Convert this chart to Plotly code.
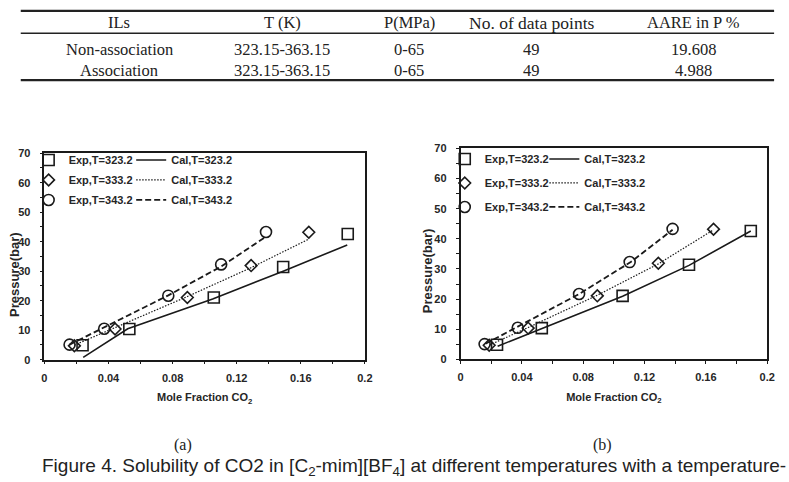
import plotly.graph_objects as go

W, H = 789, 482

# ---------------- data ----------------
table_header = ["ILs", "T (K)", "P(MPa)", "No. of data points", "AARE in P %"]
table_rows = [
    ["Non-association", "323.15-363.15", "0-65", "49", "19.608"],
    ["Association", "323.15-363.15", "0-65", "49", "4.988"],
]

temps = ["323.2", "333.2", "343.2"]

# experimental points (same in both panels)
exp_x = {
    "323.2": [0.0238, 0.0530, 0.1057, 0.1490, 0.1893],
    "333.2": [0.0187, 0.0441, 0.0892, 0.1290, 0.1650],
    "343.2": [0.0157, 0.0373, 0.0773, 0.1103, 0.1383],
}
exp_p = {
    "323.2": [4.9, 10.4, 21.1, 31.4, 42.6],
    "333.2": [4.7, 10.4, 21.1, 31.9, 43.2],
    "343.2": [5.1, 10.5, 21.7, 32.3, 43.3],
}

# model (a): non-association
cal_a_x = {
    "323.2": [0.0242, 0.0520, 0.1050, 0.1490, 0.1890],
    "333.2": [0.0185, 0.0441, 0.0892, 0.1290, 0.1650],
    "343.2": [0.0157, 0.0373, 0.0773, 0.1103, 0.1380],
}
cal_a_p = {
    "323.2": [0.8, 10.5, 20.6, 30.0, 38.9],
    "333.2": [4.9, 10.9, 21.4, 31.2, 40.9],
    "343.2": [5.1, 11.0, 21.8, 31.6, 41.6],
}

# model (b): association
cal_b_x = {
    "323.2": [0.0242, 0.0534, 0.1057, 0.1490, 0.1893],
    "333.2": [0.0190, 0.0441, 0.0892, 0.1290, 0.1650],
    "343.2": [0.0163, 0.0373, 0.0773, 0.1110, 0.1383],
}
cal_b_p = {
    "323.2": [4.4, 10.3, 21.0, 31.2, 42.6],
    "333.2": [4.8, 10.6, 21.3, 31.7, 43.0],
    "343.2": [5.2, 10.8, 21.7, 32.3, 43.0],
}

symbols = {"323.2": "square-open", "333.2": "diamond-open", "343.2": "circle-open"}
msizes = {"323.2": 11, "333.2": 9, "343.2": 11}
dashes = {"323.2": "solid", "333.2": "1.5px,1.5px", "343.2": "6px,3px"}
lwidths = {"323.2": 1.6, "333.2": 1.2, "343.2": 1.8}

INK = "#1a1a1a"
TXT = "#262626"

fig = go.Figure()

panels = [
    ("x", "y", cal_a_x, cal_a_p, "legend", "legend2"),
    ("x2", "y2", cal_b_x, cal_b_p, "legend3", "legend4"),
]

for xa, ya, cx, cp, lge, lgc in panels:
    for t in temps:
        fig.add_trace(go.Scatter(
            x=exp_x[t], y=exp_p[t], mode="markers", xaxis=xa, yaxis=ya,
            name="Exp,T=" + t, legend=lge, legendgroup=xa + "e" + t,
            marker=dict(symbol=symbols[t], size=msizes[t], color=INK,
                        line=dict(width=1.6, color=INK)),
            cliponaxis=False,
        ))
    for t in temps:
        fig.add_trace(go.Scatter(
            x=cx[t], y=cp[t], mode="lines", xaxis=xa, yaxis=ya,
            name="Cal,T=" + t, legend=lgc, legendgroup=xa + "c" + t,
            line=dict(color=INK, width=lwidths[t], dash=dashes[t]),
        ))

def px_x(v):
    return v / W

def px_y(v):
    return 1 - v / H

tickfont = dict(family="Liberation Sans", size=11, color=TXT, weight="bold")
titlefont = dict(family="Liberation Sans", size=11, color=TXT, weight="bold")

def xaxis(dom, anchor):
    return dict(
        domain=dom, range=[0, 0.2], dtick=0.04, tick0=0, tickformat="~g", anchor=anchor,
        ticks="outside", ticklen=3, tickwidth=1, tickcolor=INK,
        minor=dict(dtick=0.02, ticks="outside", ticklen=3, tickwidth=1, tickcolor=INK),
        showline=True, linecolor=INK, linewidth=1.5, mirror=True,
        showgrid=False, zeroline=False, tickfont=tickfont,
        ticklabelstandoff=4,
        title=dict(text="Mole Fraction CO<sub>2</sub>", font=titlefont, standoff=11),
    )

def yaxis(dom, anchor):
    return dict(
        domain=dom, range=[0, 70], dtick=10, anchor=anchor,
        ticks="outside", ticklen=3, tickwidth=1, tickcolor=INK,
        minor=dict(dtick=5, ticks="outside", ticklen=3, tickwidth=1, tickcolor=INK),
        showline=True, linecolor=INK, linewidth=1.5, mirror=True,
        showgrid=False, zeroline=False, tickfont=tickfont,
        ticklabelstandoff=7,
    )

legfont = dict(family="Liberation Sans", size=11, color=TXT, weight="bold")

def leg(x, y, gap):
    return dict(x=px_x(x), y=px_y(y), xanchor="left", yanchor="top",
                bgcolor="rgba(0,0,0,0)", font=legfont, itemwidth=30,
                tracegroupgap=gap, borderwidth=0)

fig.update_layout(
    width=W, height=H, margin=dict(l=0, r=0, t=0, b=0),
    paper_bgcolor="white", plot_bgcolor="white",
    xaxis=xaxis([px_x(42), px_x(367)], "y"),
    yaxis=yaxis([px_y(362.7), px_y(151)], "x"),
    xaxis2=xaxis([px_x(464), px_x(775)], "y2"),
    yaxis2=yaxis([px_y(362.5), px_y(146)], "x2"),
    legend=leg(26, 143, 1),
    legend2=leg(130, 143, 1),
    legend3=leg(448, 142, 5),
    legend4=leg(549, 142, 5),
    showlegend=True,
)

# ---------------- table ----------------
shapes = []
tl, tr_ = 18, 782
for yy, w in [(5, 2.2), (28, 1.4), (76, 2.2)]:
    shapes.append(dict(type="line", xref="paper", yref="paper",
                       x0=px_x(tl), x1=px_x(tr_), y0=px_y(yy), y1=px_y(yy),
                       line=dict(color="#222", width=w)))
fig.update_layout(shapes=shapes)

col_x = [118, 283, 412, 536, 700]
hdr_sizes = [16.5, 16.5, 16.5, 17.5, 16.5]
ann = []
for cx_, txt, fs in zip(col_x, table_header, hdr_sizes):
    ann.append(dict(x=px_x(cx_), y=px_y(17), xref="paper", yref="paper", text=txt,
                    showarrow=False, xanchor="center", yanchor="middle",
                    font=dict(family="Liberation Serif", size=fs, color="#222")))
for ry, row in zip([45, 66], table_rows):
    for cx_, txt in zip(col_x, row):
        ann.append(dict(x=px_x(cx_), y=px_y(ry), xref="paper", yref="paper", text=txt,
                        showarrow=False, xanchor="center", yanchor="middle",
                        font=dict(family="Liberation Serif", size=16.5, color="#222")))

# y-axis titles
for cx_, cy_ in [(11, 275), (430, 272)]:
    ann.append(dict(x=px_x(cx_), y=px_y(cy_), xref="paper", yref="paper",
                    text="Pressure(bar)", textangle=-90, showarrow=False,
                    xanchor="center", yanchor="middle",
                    font=dict(family="Liberation Sans", size=13, color=TXT, weight="bold")))

# ---------------- captions ----------------
for cx_, txt in [(183, "(a)"), (608, "(b)")]:
    ann.append(dict(x=px_x(cx_), y=px_y(450), xref="paper", yref="paper", text=txt,
                    showarrow=False, xanchor="center", yanchor="middle",
                    font=dict(family="Liberation Serif", size=16, color="#222")))
ann.append(dict(x=px_x(38), y=px_y(473), xref="paper", yref="paper",
                text="Figure 4. Solubility of CO2 in [C<sub>2</sub>-mim][BF<sub>4</sub>] at different temperatures with a temperature-",
                showarrow=False, xanchor="left", yanchor="middle",
                font=dict(family="Liberation Sans", size=19, color="#222")))
fig.update_layout(annotations=ann)

fig.write_html("out.html")
